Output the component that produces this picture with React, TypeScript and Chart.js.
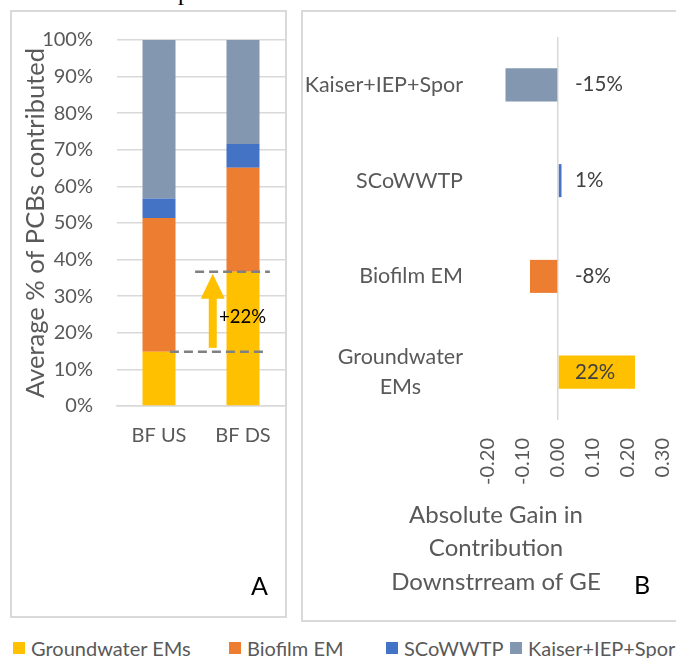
import React, { useEffect, useRef } from 'react';
import { Chart, registerables } from 'chart.js';

Chart.register(...registerables);

const FONT = 'Lato, "Open Sans", sans-serif';
const TEXT = '#595959';
const GRID = '#d9d9d9';
Chart.defaults.font.family = FONT;

// Panel A: average share of PCBs contributed, upstream vs downstream of the biofilm
const sites = ['BF US', 'BF DS'];
const groundwaterEMs = [14.8, 36.7];
const biofilmEM = [36.6, 28.4];
const scowwtp = [5.3, 6.5];
const kaiserIepSpor = [43.3, 28.4];
const seriesNames = ['Groundwater EMs', 'Biofilm EM', 'SCoWWTP', 'Kaiser+IEP+Spor'];
const seriesColors = ['#FFC000', '#ED7D31', '#4472C4', '#8497B0'];
const percentAxisTitle = 'Average % of PCBs contributed';

// Panel B: absolute gain in contribution downstream of GE
const gainCategories: (string | string[])[] = ['Kaiser+IEP+Spor', 'SCoWWTP', 'Biofilm EM', ['Groundwater', 'EMs']];
const gainValues = [-0.15, 0.01, -0.08, 0.22];
const gainColors = ['#8497B0', '#4472C4', '#ED7D31', '#FFC000'];
const gainAxisTitle = ['Absolute Gain in', 'Contribution', 'Downstrream of GE'];

const pct = (v: number) => `${Math.round(v * 100)}%`;

// Keep the plot area fixed: no automatic padding from tick label overflow
const clearPadding = (s: any) => {
  s.paddingTop = 0;
  s.paddingBottom = 0;
  s.paddingLeft = 0;
  s.paddingRight = 0;
};

// Dashed reference lines, arrow and label for the groundwater increase
const gainArrowPlugin = {
  id: 'gainArrow',
  afterDatasetsDraw(chart: any) {
    const { ctx } = chart;
    const x = chart.scales.x;
    const y = chart.scales.y;
    const yUS = y.getPixelForValue(groundwaterEMs[0]);
    const yDS = y.getPixelForValue(groundwaterEMs[1]);
    ctx.save();
    ctx.strokeStyle = '#808080';
    ctx.lineWidth = 2.5;
    ctx.setLineDash([9, 5]);
    ctx.beginPath();
    ctx.moveTo(x.getPixelForValue(0.13), yUS);
    ctx.lineTo(x.getPixelForValue(1.29), yUS);
    ctx.moveTo(x.getPixelForValue(0.43), yDS);
    ctx.lineTo(x.getPixelForValue(1.32), yDS);
    ctx.stroke();
    ctx.setLineDash([]);

    const ax = x.getPixelForValue(0.64);
    const tip = yDS + 2;
    const tail = yUS - 4;
    const headH = 25;
    const headW = 24;
    ctx.fillStyle = '#FFC000';
    ctx.fillRect(ax - 4, tip + headH - 1, 8, tail - tip - headH + 1);
    ctx.beginPath();
    ctx.moveTo(ax - headW / 2, tip + headH);
    ctx.lineTo(ax, tip);
    ctx.lineTo(ax + headW / 2, tip + headH);
    ctx.closePath();
    ctx.fill();

    const diff = groundwaterEMs[1] - groundwaterEMs[0];
    ctx.fillStyle = '#000000';
    ctx.font = `18.5px ${FONT}`;
    ctx.textAlign = 'left';
    ctx.textBaseline = 'middle';
    ctx.fillText(`+${Math.round(diff)}%`, x.getPixelForValue(0.715), (yUS + yDS) / 2 + 5);
    ctx.restore();
  },
};

// Category labels, value labels and axis title for panel B
const gainLabelsPlugin = {
  id: 'gainLabels',
  afterDraw(chart: any) {
    const { ctx, chartArea } = chart;
    const x = chart.scales.x;
    const y = chart.scales.y;
    ctx.save();
    ctx.fillStyle = TEXT;
    ctx.font = `21.5px ${FONT}`;
    ctx.textAlign = 'center';
    ctx.textBaseline = 'middle';
    const right = chartArea.left - 25;
    gainCategories.forEach((label, i) => {
      const lines = Array.isArray(label) ? label : [label];
      const widest = Math.max(...lines.map((l) => ctx.measureText(l).width));
      const cy = y.getPixelForValue(i);
      const lh = 30;
      lines.forEach((l, k) => {
        ctx.fillText(l, right - widest / 2, cy + (k - (lines.length - 1) / 2) * lh);
      });
    });

    ctx.fillStyle = '#404040';
    ctx.font = `20.5px ${FONT}`;
    ctx.textAlign = 'left';
    const zero = x.getPixelForValue(0);
    gainValues.forEach((v, i) => {
      ctx.fillText(pct(v), zero + 17, y.getPixelForValue(i));
    });

    ctx.fillStyle = TEXT;
    ctx.font = `24px ${FONT}`;
    ctx.textAlign = 'center';
    gainAxisTitle.forEach((l, k) => {
      ctx.fillText(l, chartArea.left + 8, chartArea.bottom + 95 + k * 33.5);
    });
    ctx.restore();
  },
};

function CompositionChart() {
  const ref = useRef<HTMLCanvasElement>(null);
  useEffect(() => {
    const series = [groundwaterEMs, biofilmEM, scowwtp, kaiserIepSpor];
    const chart = new Chart(ref.current!, {
      type: 'bar',
      data: {
        labels: sites,
        datasets: series.map((d, i) => ({
          label: seriesNames[i],
          data: d,
          backgroundColor: seriesColors[i],
          barPercentage: 0.393,
          categoryPercentage: 1,
        })),
      },
      options: {
        responsive: false,
        animation: false,
        layout: { padding: { top: 28, right: 1, left: 0, bottom: 0 } },
        plugins: { legend: { display: false }, tooltip: { enabled: false } },
        scales: {
          x: {
            stacked: true,
            ticks: { font: { size: 20 }, color: TEXT, padding: 18 },
            grid: { display: false, drawTicks: false },
            border: { display: true, color: GRID, width: 1.5 },
            afterFit: (s: any) => { s.height = 210; clearPadding(s); },
          },
          y: {
            stacked: true,
            min: 0,
            max: 100,
            ticks: { stepSize: 10, callback: (v: any) => `${v}%`, font: { size: 20 }, color: TEXT, padding: 24 },
            grid: { color: GRID, lineWidth: 1.5, drawTicks: false },
            border: { display: false },
            title: { display: true, text: percentAxisTitle, font: { size: 25.5 }, color: TEXT, padding: { top: 8, bottom: 0 } },
            afterFit: (s: any) => { s.width = 105; clearPadding(s); },
          },
        },
      },
      plugins: [gainArrowPlugin],
    });
    return () => chart.destroy();
  }, []);
  return <canvas ref={ref} width={274} height={604} style={{ position: 'absolute', left: 12, top: 12 }} />;
}

function GainChart() {
  const ref = useRef<HTMLCanvasElement>(null);
  useEffect(() => {
    const chart = new Chart(ref.current!, {
      type: 'bar',
      data: {
        labels: gainCategories as any,
        datasets: [{
          label: 'Absolute gain',
          data: gainValues,
          backgroundColor: gainColors,
          barPercentage: 0.345,
          categoryPercentage: 1,
        }],
      },
      options: {
        indexAxis: 'y',
        responsive: false,
        animation: false,
        layout: { padding: { top: 25, right: 13, left: 0, bottom: 0 } },
        plugins: { legend: { display: false }, tooltip: { enabled: false } },
        scales: {
          x: {
            type: 'linear',
            min: -0.2,
            max: 0.3,
            ticks: {
              stepSize: 0.1,
              autoSkip: false,
              minRotation: 90,
              maxRotation: 90,
              padding: 18,
              font: { size: 20 },
              color: TEXT,
              callback: (v: any) => Number(v).toFixed(2),
            },
            grid: {
              color: (c: any) => (c.tick && Math.abs(c.tick.value) < 1e-9 ? GRID : 'rgba(0,0,0,0)'),
              lineWidth: 1.5,
              drawTicks: false,
            },
            border: { display: false },
            afterFit: (s: any) => { s.height = 200; clearPadding(s); },
          },
          y: {
            ticks: { display: false },
            grid: { display: false },
            border: { display: false },
            afterFit: (s: any) => { s.width = 185; clearPadding(s); },
          },
        },
      },
      plugins: [gainLabelsPlugin],
    });
    return () => chart.destroy();
  }, []);
  return <canvas ref={ref} width={373} height={608} style={{ position: 'absolute', left: 303, top: 12 }} />;
}

const legendLefts = [13, 229, 386, 510];

export default function App() {
  return (
    <div style={{ position: 'absolute', left: 0, top: 0, width: 676, height: 658, background: '#fff', overflow: 'hidden', fontFamily: FONT }}>
      <div style={{ position: 'absolute', left: 0, top: 0, width: 676, height: 5, overflow: 'hidden' }}>
        <span style={{ position: 'absolute', left: 178, top: -20, font: '24px "Liberation Serif", serif', lineHeight: '24px', color: '#000' }}>p</span>
      </div>
      <div style={{ position: 'absolute', left: 10, top: 10, width: 277, height: 608, border: `2px solid ${GRID}`, boxSizing: 'border-box' }} />
      <div style={{ position: 'absolute', left: 301, top: 10, width: 390, height: 612, border: `2px solid ${GRID}`, boxSizing: 'border-box' }} />
      <CompositionChart />
      <GainChart />
      <div style={{ position: 'absolute', left: 251, top: 570, fontSize: 25, color: '#000', lineHeight: 'normal' }}>A</div>
      <div style={{ position: 'absolute', left: 634, top: 569, fontSize: 25, color: '#000', lineHeight: 'normal' }}>B</div>
      {seriesNames.map((name, i) => (
        <div key={name} style={{ position: 'absolute', left: legendLefts[i], top: 635, display: 'flex', alignItems: 'center', whiteSpace: 'nowrap', fontSize: 20, color: TEXT, lineHeight: '26px' }}>
          <span style={{ display: 'inline-block', width: 12, height: 12, background: seriesColors[i], marginRight: 6 }} />
          {name}
        </div>
      ))}
    </div>
  );
}
